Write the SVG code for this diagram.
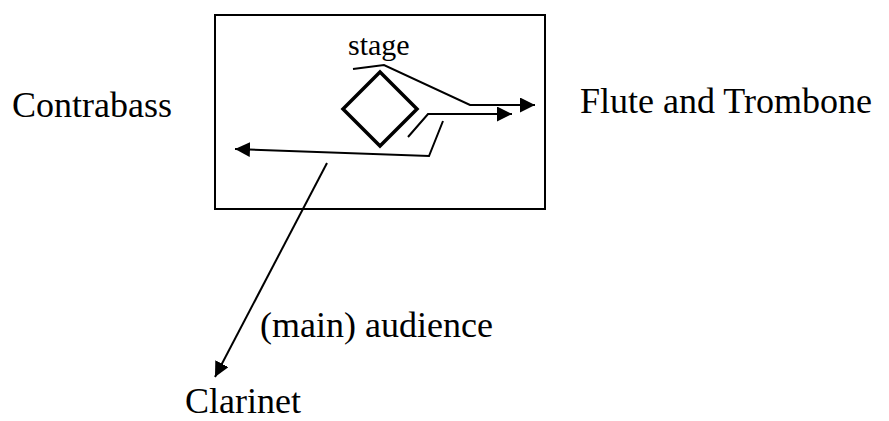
<svg xmlns="http://www.w3.org/2000/svg" width="889" height="421" viewBox="0 0 889 421">
  <style>
    .lbl { font-family: "Liberation Serif", "Times New Roman", serif; font-size: 36px; fill: #000; }
    .small { font-size: 30px; }
    .edge { fill: none; stroke: #000; stroke-width: 2; stroke-linejoin: miter; }
  </style>
  <defs>
    <marker id="arrow" markerUnits="userSpaceOnUse" markerWidth="16" markerHeight="15" refX="15" refY="7.5" orient="auto">
      <path d="M0,0 L15,7.5 L0,15 Z" fill="#000"/>
    </marker>
    <filter id="soft" x="-10%" y="-10%" width="120%" height="120%">
      <feGaussianBlur stdDeviation="0.6"/>
    </filter>
  </defs>
  <rect width="889" height="421" fill="#fff"/>

  <g id="stage-box">
    <rect x="215" y="15" width="330" height="194" fill="none" stroke="#000" stroke-width="2"/>
    <text class="lbl small" x="348" y="55">stage</text>
  </g>

  <g id="podium">
    <polygon points="380,72 417,109 380,146 343,109" fill="none" stroke="#000" stroke-width="3.5" filter="url(#soft)"/>
  </g>

  <g id="contrabass">
    <text class="lbl" x="12" y="117">Contrabass</text>
  </g>
  <g id="flute-trombone">
    <text class="lbl" x="580" y="113">Flute and Trombone</text>
  </g>
  <g id="audience">
    <text class="lbl" x="260" y="337">(main) audience</text>
  </g>
  <g id="clarinet">
    <text class="lbl" x="185" y="413">Clarinet</text>
  </g>

  <g id="connectors">
    <polyline class="edge" points="353,69 384,65 470,105 535,105" marker-end="url(#arrow)"/>
    <polyline class="edge" points="408,137 428,114 512,114" marker-end="url(#arrow)"/>
    <polyline class="edge" points="443,121 429,156 235,149" marker-end="url(#arrow)"/>
    <line class="edge" x1="327" y1="163" x2="215" y2="377" marker-end="url(#arrow)"/>
  </g>
</svg>
